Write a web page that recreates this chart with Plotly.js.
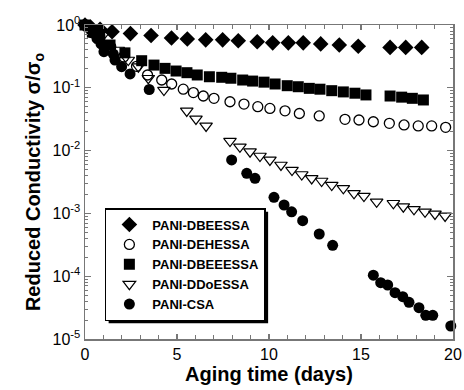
<!DOCTYPE html>
<html>
<head>
<meta charset="utf-8">
<script src="https://cdn.plot.ly/plotly-3.0.1.min.js"></script>
<style>
  html, body { margin: 0; padding: 0; background: #fff; }
  #chart { width: 464px; height: 390px; }
</style>
</head>
<body>
<div id="chart"></div>
<script>
// Aging time (days) and reduced conductivity sigma/sigma_0 for each polyaniline salt
const seriesNames = ['PANI-DBEESSA', 'PANI-DEHESSA', 'PANI-DBEEESSA', 'PANI-DDoESSA', 'PANI-CSA'];

const daysDBEESSA = [0, 0.3, 0.82, 1.47, 2.47, 3.59, 4.70, 5.56, 6.56, 7.48, 8.33, 9.36, 10.2, 11.05, 11.86, 12.81, 13.82, 14.85, 16.58, 17.43, 18.3];
const sigmaDBEESSA = [1.0, 0.93, 0.855, 0.78, 0.73, 0.68, 0.62, 0.60, 0.58, 0.58, 0.56, 0.54, 0.52, 0.52, 0.52, 0.50, 0.48, 0.46, 0.44, 0.44, 0.44];

const daysDEHESSA = [0, 0.4, 0.8, 1.4, 2.1, 2.8, 3.4, 4.17, 4.71, 5.34, 5.89, 6.43, 7.01, 7.88, 8.64, 9.39, 10.05, 10.87, 11.65, 12.73, 14.13, 14.89, 15.67, 16.54, 17.34, 18.11, 18.84, 19.6];
const sigmaDEHESSA = [1.0, 0.85, 0.66, 0.45, 0.31, 0.22, 0.16, 0.133, 0.115, 0.095, 0.084, 0.074, 0.068, 0.060, 0.055, 0.050, 0.047, 0.043, 0.039, 0.0356, 0.0315, 0.0307, 0.0288, 0.0272, 0.0256, 0.0247, 0.0247, 0.0235];

const daysDBEEESSA = [0, 0.4, 0.8, 1.36, 2.17, 3.08, 3.75, 4.35, 4.95, 5.54, 6.1, 6.76, 7.43, 7.93, 8.57, 9.11, 9.73, 10.33, 10.99, 11.59, 12.19, 12.77, 13.41, 14.04, 14.67, 15.27, 16.58, 17.21, 17.79, 18.39];
const sigmaDBEEESSA = [1.0, 0.77, 0.62, 0.48, 0.36, 0.27, 0.23, 0.204, 0.185, 0.174, 0.16, 0.150, 0.147, 0.142, 0.133, 0.128, 0.123, 0.115, 0.108, 0.104, 0.098, 0.095, 0.090, 0.086, 0.082, 0.077, 0.074, 0.071, 0.068, 0.064];

const daysDDoESSA = [0, 0.38, 0.99, 1.81, 2.35, 2.90, 3.44, 4.29, 5.53, 6.03, 6.58, 7.88, 8.42, 8.97, 9.51, 10.05, 10.65, 11.25, 11.78, 12.32, 12.86, 13.41, 14.04, 14.62, 15.16, 15.85, 16.76, 17.30, 17.88, 18.48, 19.02, 19.57];
const sigmaDDoESSA = [1.0, 0.90, 0.69, 0.40, 0.277, 0.217, 0.142, 0.092, 0.0428, 0.0319, 0.0247, 0.0142, 0.0115, 0.0096, 0.0082, 0.0071, 0.0059, 0.0049, 0.00416, 0.0036, 0.00328, 0.00283, 0.00251, 0.00209, 0.00189, 0.00153, 0.00145, 0.00128, 0.00116, 0.00106, 0.00098, 0.00091];

const daysCSA = [0, 0.22, 0.38, 0.65, 0.87, 1.03, 1.54, 1.63, 1.99, 2.45, 3.49, 7.97, 8.79, 9.24, 10.27, 10.82, 11.23, 11.83, 12.73, 13.46, 15.67, 16.07, 16.45, 16.85, 17.27, 17.61, 18.15, 18.52, 18.9, 19.88];
const sigmaCSA = [1.0, 0.90, 0.75, 0.61, 0.50, 0.376, 0.345, 0.277, 0.217, 0.166, 0.094, 0.0071, 0.00435, 0.00362, 0.0018, 0.00136, 0.00106, 0.000765, 0.00047, 0.00031, 0.000104, 0.0000788, 0.0000724, 0.0000546, 0.0000472, 0.0000384, 0.0000315, 0.0000238, 0.0000238, 0.0000161];

const yTickVals = [1e-5, 1e-4, 1e-3, 1e-2, 1e-1, 1];
const yTickText = ['10<sup>-5</sup>', '10<sup>-4</sup>', '10<sup>-3</sup>', '10<sup>-2</sup>', '10<sup>-1</sup>', '10<sup>0</sup>'];

const FONT = 'Liberation Sans, Arial, Helvetica, sans-serif';

function pts(name, x, y, symbol, size, lineWidth) {
  return {
    type: 'scatter', mode: 'markers', name: name, x: x, y: y,
    cliponaxis: false,
    marker: { symbol: symbol, size: size, color: '#000',
              line: { color: '#000', width: lineWidth } }
  };
}

const traces = [
  pts(seriesNames[0], daysDBEESSA, sigmaDBEESSA, 'diamond', 12, 0),
  pts(seriesNames[1], daysDEHESSA, sigmaDEHESSA, 'circle-open', 10, 1.3),
  pts(seriesNames[2], daysDBEEESSA, sigmaDBEEESSA, 'square', 11, 0),
  pts(seriesNames[3], daysDDoESSA, sigmaDDoESSA, 'triangle-down-open', 11, 1.2),
  pts(seriesNames[4], daysCSA, sigmaCSA, 'circle', 11, 0)
];

const axisCommon = {
  showline: true, linecolor: '#777', linewidth: 1.5,
  mirror: 'allticks', ticks: 'inside', tickcolor: '#777', tickwidth: 1.2,
  showgrid: false, zeroline: false,
  tickfont: { family: FONT, size: 16, color: '#000' }
};

const layout = {
  width: 464, height: 390,
  margin: { l: 85, r: 11, t: 25, b: 51 },
  paper_bgcolor: '#fff', plot_bgcolor: '#fff',
  showlegend: true,
  xaxis: Object.assign({}, axisCommon, {
    range: [0, 20], tickvals: [0, 5, 10, 15, 20], ticklen: 5,
    minor: { dtick: 1, ticks: 'inside', ticklen: 4, tickcolor: '#777', tickwidth: 1 },
    title: { text: 'Aging time (days)', standoff: 4,
             font: { family: FONT, size: 20, weight: 'bold', color: '#000' } }
  }),
  yaxis: Object.assign({}, axisCommon, {
    type: 'log', range: [-5, 0], tickvals: yTickVals, ticktext: yTickText, ticklen: 6,
    minor: { dtick: 'D1', ticks: 'inside', ticklen: 3, tickcolor: '#777', tickwidth: 1 },
    title: { text: 'Reduced Conductivity σ/σ<sub>o</sub>', standoff: 6,
             font: { family: FONT, size: 20, weight: 'bold', color: '#000' } }
  }),
  legend: {
    x: 0.054, y: 0.417, xanchor: 'left', yanchor: 'top',
    bgcolor: '#fff', bordercolor: '#000', borderwidth: 1.5,
    itemwidth: 36,
    font: { family: FONT, size: 13, weight: 'bold', color: '#000' },
    tracegroupgap: 0
  }
};

Plotly.newPlot('chart', traces, layout, { displayModeBar: false, staticPlot: true }).then(function (gd) {
  // drop shadow behind the legend box
  const bg = gd.querySelector('.legend .bg');
  if (!bg) return;
  const r = bg.getBoundingClientRect();
  const host = gd.getBoundingClientRect();
  const fl = gd._fullLayout;
  const toX = px => (px - host.left - fl.margin.l) / fl._size.w;
  const toY = py => 1 - (py - host.top - fl.margin.t) / fl._size.h;
  const off = 3;
  Plotly.relayout(gd, {
    shapes: [{
      type: 'rect', xref: 'paper', yref: 'paper', layer: 'above',
      x0: toX(r.left + off), x1: toX(r.right + off),
      y0: toY(r.bottom + off), y1: toY(r.top + off),
      fillcolor: '#000', line: { width: 0 }
    }]
  });
});
</script>
</body>
</html>
